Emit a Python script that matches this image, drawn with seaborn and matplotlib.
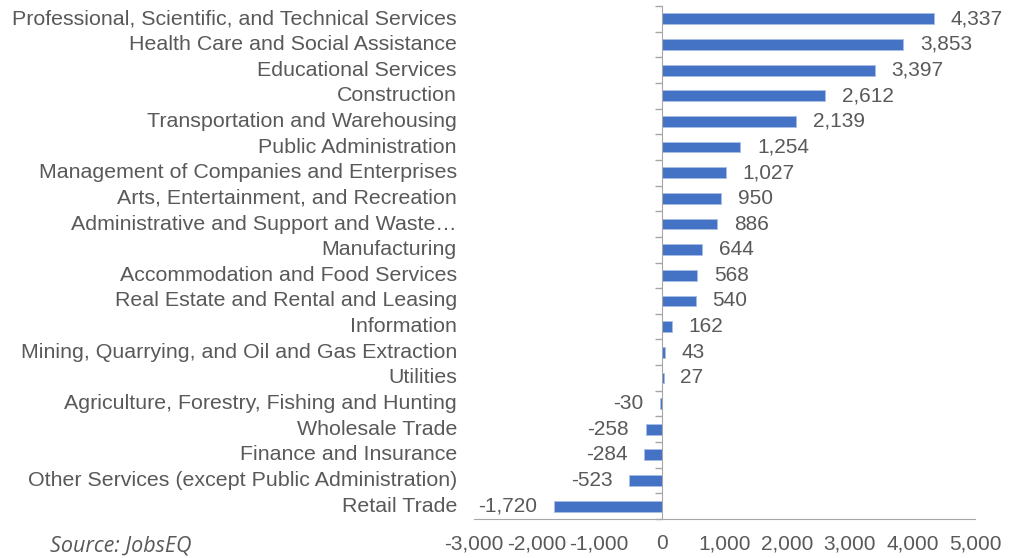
import matplotlib
matplotlib.use("Agg")
import matplotlib.pyplot as plt
import matplotlib.transforms as mtransforms
from matplotlib.ticker import FuncFormatter, FixedLocator
import pandas as pd
import seaborn as sns

industries = [
    "Professional, Scientific, and Technical Services",
    "Health Care and Social Assistance",
    "Educational Services",
    "Construction",
    "Transportation and Warehousing",
    "Public Administration",
    "Management of Companies and Enterprises",
    "Arts, Entertainment, and Recreation",
    "Administrative and Support and Waste\u2026",
    "Manufacturing",
    "Accommodation and Food Services",
    "Real Estate and Rental and Leasing",
    "Information",
    "Mining, Quarrying, and Oil and Gas Extraction",
    "Utilities",
    "Agriculture, Forestry, Fishing and Hunting",
    "Wholesale Trade",
    "Finance and Insurance",
    "Other Services (except Public Administration)",
    "Retail Trade",
]
job_change = [4337, 3853, 3397, 2612, 2139, 1254, 1027, 950, 886, 644,
              568, 540, 162, 43, 27, -30, -258, -284, -523, -1720]
x_ticks = list(range(-3000, 5001, 1000))

df = pd.DataFrame({"industry": industries, "change": job_change})

sns.set_style("white")
plt.rcParams["font.family"] = ["Liberation Sans", "DejaVu Sans"]
text_grey = "#595959"
axis_grey = "#A6A6A6"
fs = 15

fig = plt.figure(figsize=(10.16, 5.58), dpi=100)
ax = fig.add_axes([0.4665, 0.0699, 0.4932, 0.9193])

sns.barplot(data=df, x="change", y="industry", orient="h", color="#4472C4",
            saturation=1, width=0.42, edgecolor="#A9BEE6", linewidth=0.6, ax=ax)

for cont in ax.containers:
    ax.bar_label(cont, fmt="{:,.0f}", padding=12, fontsize=fs, color=text_grey)

ax.set_xlim(-3000, 5000)
ax.set_ylim(len(industries) - 0.5, -0.5)
ax.set_xticks(x_ticks)
ax.xaxis.set_major_formatter(FuncFormatter(lambda v, p: f"{v:,.0f}"))
ax.tick_params(axis="x", direction="out", length=5, width=1, color=axis_grey,
               labelsize=fs, labelcolor=text_grey, pad=6)

# vertical axis at zero with ticks between categories
ax.spines["left"].set_position(("data", 0))
ax.spines["left"].set_color(axis_grey)
ax.spines["bottom"].set_color(axis_grey)
for s in ("top", "right"):
    ax.spines[s].set_visible(False)
ax.set_yticks([])
ax.yaxis.set_minor_locator(FixedLocator([i - 0.5 for i in range(len(industries) + 1)]))
ax.tick_params(axis="y", which="minor", direction="out", length=5, width=1,
               color=axis_grey, left=True)
ax.set_xlabel("")
ax.set_ylabel("")

# category labels at the left edge of the plot
trans = mtransforms.blended_transform_factory(ax.transAxes, ax.transData)
for i, name in enumerate(industries):
    ax.text(-0.034, i, name, transform=trans, ha="right", va="center",
            fontsize=15.4, color=text_grey)

fig.text(0.049, 0.012, "Source: JobsEQ", fontsize=15.5, style="italic",
         color=text_grey, family=["Open Sans", "DejaVu Sans"])

fig.savefig("out.png", dpi=100)
